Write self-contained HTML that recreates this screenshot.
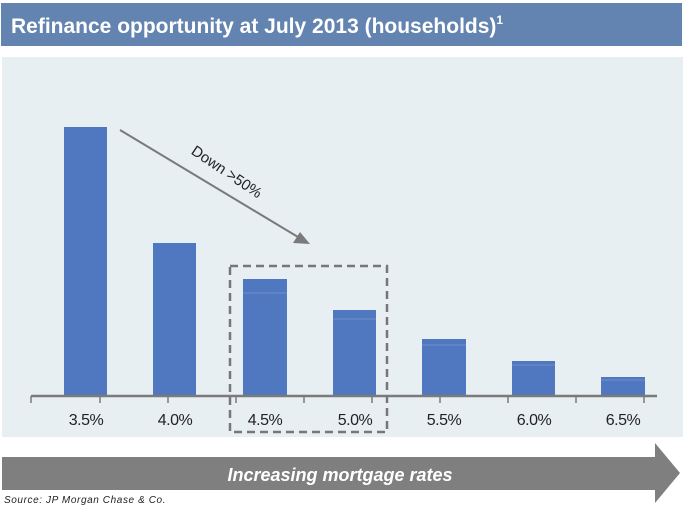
<!DOCTYPE html>
<html><head><meta charset="utf-8"><style>
body{margin:0;width:686px;height:512px;background:#fff;overflow:hidden;font-family:"Liberation Sans",Arial,sans-serif}
</style></head><body>
<svg width="686" height="512" xmlns="http://www.w3.org/2000/svg" font-family="Liberation Sans, Arial, sans-serif">
<rect x="1" y="3" width="681" height="43" fill="#6384b0"/>
<text x="11" y="33" font-size="21" font-weight="bold" fill="#fff">Refinance opportunity at July 2013 (households)<tspan font-size="12" dy="-9">1</tspan></text>
<rect x="2" y="57" width="681" height="380" fill="#e8eff3"/>
<g fill="#4f78c0">
<rect x="64" y="127" width="43" height="268"/>
<rect x="153" y="243" width="43" height="152"/>
<rect x="243" y="279" width="44" height="116"/>
<rect x="333" y="310" width="43" height="85"/>
<rect x="422" y="339" width="44" height="56"/>
<rect x="512" y="361" width="43" height="34"/>
<rect x="601" y="377" width="44" height="18"/>
</g>
<g stroke="#6f8fc8" stroke-width="1">
<line x1="243" y1="293" x2="287" y2="293"/><line x1="333" y1="319" x2="376" y2="319"/>
<line x1="422" y1="345" x2="466" y2="345"/><line x1="512" y1="365" x2="555" y2="365"/>
<line x1="601" y1="380" x2="645" y2="380"/>
</g>
<line x1="31" y1="396" x2="657" y2="396" stroke="#7a7a7a" stroke-width="2.5"/>
<g stroke="#7a7a7a" stroke-width="1.5">
<line x1="31" y1="396" x2="31" y2="403"/><line x1="100" y1="396" x2="100" y2="403"/><line x1="168" y1="396" x2="168" y2="403"/><line x1="236" y1="396" x2="236" y2="403"/><line x1="304" y1="396" x2="304" y2="403"/><line x1="372" y1="396" x2="372" y2="403"/><line x1="440" y1="396" x2="440" y2="403"/><line x1="508" y1="396" x2="508" y2="403"/><line x1="576" y1="396" x2="576" y2="403"/><line x1="644" y1="396" x2="644" y2="403"/>
</g>
<g font-size="16" fill="#222" text-anchor="middle" letter-spacing="-0.5">
<text x="86" y="425">3.5%</text><text x="175" y="425">4.0%</text><text x="265" y="425">4.5%</text><text x="355" y="425">5.0%</text><text x="444" y="425">5.5%</text><text x="534" y="425">6.0%</text><text x="623" y="425">6.5%</text>
</g>
<rect x="230" y="266" width="157" height="166" fill="none" stroke="#777" stroke-width="2.5" stroke-dasharray="8,5"/>
<line x1="120" y1="130" x2="298" y2="237" stroke="#7a7a7a" stroke-width="2"/>
<polygon points="310,244 293,243 300,232" fill="#7a7a7a"/>
<text x="224" y="176" font-size="15" fill="#222" text-anchor="middle" transform="rotate(34 224 176)">Down &gt;50%</text>
<polygon points="2,457 655,457 655,443 680,473 655,503 655,490 2,490" fill="#7f7f7f"/>
<text x="340" y="481" font-size="18" font-weight="bold" font-style="italic" fill="#fff" text-anchor="middle">Increasing mortgage rates</text>
<text x="4" y="503" font-size="10" font-style="italic" fill="#222" letter-spacing="0.6">Source: JP Morgan Chase &amp; Co.</text>
</svg>
</body></html>
